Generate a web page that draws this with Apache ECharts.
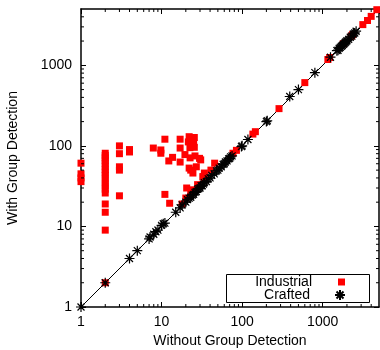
<!DOCTYPE html>
<html><head><meta charset="utf-8">
<script src="https://cdn.jsdelivr.net/npm/echarts@6/dist/echarts.min.js"></script>
<style>html,body{margin:0;padding:0;background:#fff}#c{width:380px;height:350px}</style>
</head><body><div id="c"></div>
<script>
// Industrial (red squares)
const industrialX = [1,1,1,1,
  2,2,2,2,2,2,2,2,2,2,2,2,2,2,2,2,2,2,
  3,3,3,3,3, 4,4,
  7.9,9.8,9.8,11,11,12.6,12.3,13.7,17,17,17,19.5,22,25.5,21.5,25,22.5,25.5,22.6,26,30.6,23,24.5,20.5,33.4,45.6,22,29.6,34,27,
  20,23,24.5,28,34,41,32.5,18,77,85,136,146,287,600,1160,1220,1800,2260,2350,3150,3600,4000,4700];
const industrialY = [61,45,40,36,
  81,76,71,66,61,56,51,47,43,39,35,32,29,26,19,15,9,2,
  100,80,55,50,24, 90,84,
  94,89,81,121,25,19.4,65,72,121,94,63,78,130,127,112,110,95,96,71,75,67,50,46,30,41.6,61,53,70,46,55,
  22.5,25,28.5,33,38,50,41.5,19,81,88,140,150,290,610,1180,1250,1850,2300,2400,3200,3600,4050,4900];
// Crafted (black asterisks)
const craftedX = [1,2,4,5,7,7.2,8,8.5,9,10,10.5,11,15,17,18,20,21,22,23,24,25,26,27,28,29,30,31,32,33,34,36,38,40,42,45,48,50,52,55,58,60,62,65,68,70,72,75,98,100,118,200,205,390,500,800,1250,1500,1550,1600,1650,1700,1750,1800,1850,1900,1950,2000,2100,2200,2300,2400,2500,2600];
const craftedY = [1,2,4,5,7,7.4,8,8.6,9,10.3,10.8,11,15,17,18.5,20,21.5,22.5,23,24.5,25,26.5,27,29,29.5,30,32,32,33.5,35,36,39,40,43,45,49,50,53,55,59,60,63,65,69,70,73,75,98,100,120,200,205,410,500,810,1260,1520,1540,1620,1670,1720,1760,1820,1860,1920,1970,2020,2100,2230,2300,2450,2520,2650];
const diagonal = [1, 5000];
const axisMin = 1, axisMax = 5000;
const minorTicks = [2,3,4,5,6,7,8,9,20,30,40,50,60,70,80,90,200,300,400,500,600,700,800,900,2000,3000,4000];

const FONT = 'Liberation Sans';
const asterisk = 'path://M0,5L10,5M5,0L5,10M1.5,1.5L8.5,8.5M1.5,8.5L8.5,1.5';

function logAxis(pos, showLabels, extra) {
  return Object.assign({
    type: 'log', logBase: 10, min: axisMin, max: axisMax, position: pos,
    axisLine: {show: true, onZero: false, lineStyle: {color: '#000', width: 1.5}},
    axisTick: {show: true, inside: true, length: 5, lineStyle: {color: '#000', width: 1}},
    splitLine: {show: false},
    axisLabel: {show: showLabels, color: '#000', fontFamily: FONT, fontSize: 14,
      showMaxLabel: false, formatter: v => String(Math.round(v))}
  }, extra || {});
}

const chart = echarts.init(document.getElementById('c'), null, {renderer: 'canvas'});
chart.setOption({
  animation: false,
  backgroundColor: '#fff',
  grid: {left: 81, right: 1, top: 9, bottom: 43, containLabel: false, outerBoundsMode: 'none'},
  xAxis: [
    logAxis('bottom', true, {name: 'Without Group Detection', nameLocation: 'middle', nameGap: 27,
      nameTextStyle: {color: '#000', fontFamily: FONT, fontSize: 14},
      axisLabel: {show: true, margin: 8, color: '#000', fontFamily: FONT, fontSize: 14, showMaxLabel: false, formatter: v => String(Math.round(v))}}),
    logAxis('top', false)
  ],
  yAxis: [
    logAxis('left', true, {name: 'With Group Detection', nameLocation: 'middle', nameGap: 61, nameRotate: 90,
      nameTextStyle: {color: '#000', fontFamily: FONT, fontSize: 14},
      axisLabel: {show: true, margin: 9, color: '#000', fontFamily: FONT, fontSize: 14, showMaxLabel: false, formatter: v => String(Math.round(v))}}),
    logAxis('right', false)
  ],
  legend: [
    {data: [{name: 'Industrial', icon: 'rect'}], orient: 'vertical', align: 'right', right: 35, top: 275,
      padding: 0, itemWidth: 7, itemHeight: 7, selectedMode: false, z: 20,
      textStyle: {color: '#000', fontFamily: FONT, fontSize: 14, padding: [0, 21, 0, 0]}},
    {data: [{name: 'Crafted'}], orient: 'vertical', align: 'right', right: 34, top: 288,
      padding: 0, itemWidth: 10, itemHeight: 10, selectedMode: false, z: 20,
      textStyle: {color: '#000', fontFamily: FONT, fontSize: 14, padding: [0, 20, 0, 0]}}
  ],
  graphic: [{type: 'rect', shape: {x: 226.5, y: 274.5, width: 143, height: 28}, z: 0, zlevel: 0,
    style: {fill: 'none', stroke: '#000', lineWidth: 1}}],
  series: [
    {type: 'line', name: 'diag', data: diagonal.map(v => [v, v]), showSymbol: false, silent: true,
      lineStyle: {color: '#000', width: 1}, z: 1},
    {type: 'scatter', name: 'Industrial', data: industrialX.map((x, i) => [x, industrialY[i]]),
      symbol: 'rect', symbolSize: 7, itemStyle: {color: '#ff0000', opacity: 1}, clip: false, z: 2},
    {type: 'scatter', name: 'Crafted', data: craftedX.map((x, i) => [x, craftedY[i]]),
      symbol: asterisk, symbolSize: 10, itemStyle: {color: 'rgba(0,0,0,0)', borderColor: '#000', borderWidth: 1.2, opacity: 1}, clip: false, z: 3},
    {type: 'custom', name: 'minor', silent: true, z: 4, data: minorTicks.map(v => [v, v]), encode: {x: 0, y: 1},
      renderItem: function (params, api) {
        const v = api.value(0);
        const b = api.coord([v, axisMin]), t = api.coord([v, axisMax]);
        const l = api.coord([axisMin, v]), r = api.coord([axisMax, v]);
        const st = {stroke: '#000', lineWidth: 1};
        return {type: 'group', children: [
          {type: 'line', shape: {x1: b[0], y1: b[1], x2: b[0], y2: b[1] - 3}, style: st},
          {type: 'line', shape: {x1: t[0], y1: t[1], x2: t[0], y2: t[1] + 3}, style: st},
          {type: 'line', shape: {x1: l[0], y1: l[1], x2: l[0] + 3, y2: l[1]}, style: st},
          {type: 'line', shape: {x1: r[0], y1: r[1], x2: r[0] - 3, y2: r[1]}, style: st}
        ]};
      }}
  ]
});
</script></body></html>
